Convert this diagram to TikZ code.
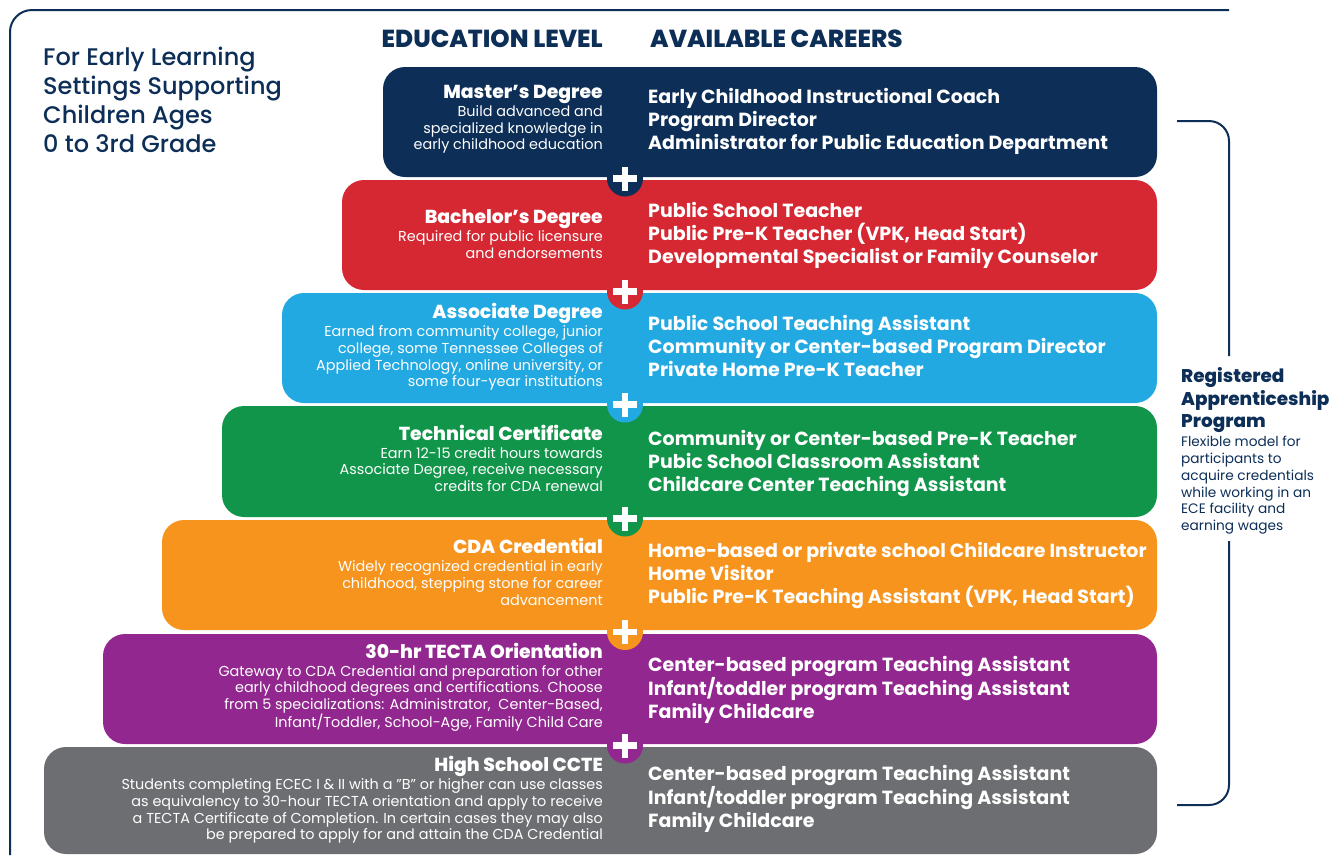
\documentclass[tikz,border=0pt]{standalone}
\usepackage{fontspec}
\setmainfont{Poppins}
\newfontfamily\popmedium{Poppins Medium}
\newfontfamily\popbold{Poppins Bold}
\newfontfamily\popxbold{Poppins ExtraBold}
\usetikzlibrary{positioning}

\definecolor{navy}{HTML}{0C2E57}
\definecolor{bsred}{HTML}{D62832}
\definecolor{asblue}{HTML}{22A9E1}
\definecolor{tcgreen}{HTML}{11954A}
\definecolor{cdaorange}{HTML}{F7941E}
\definecolor{tpurple}{HTML}{92278F}
\definecolor{hsgray}{HTML}{6D6E71}

\tikzset{
  frame/.style={draw=navy, line width=2pt},
  bar/.style={rounded corners=22pt},
  colhead/.style={text=navy, font=\popxbold\fontsize{24.6}{28}\selectfont, inner sep=0pt},
  lvlhead/.style={text=white, font=\popxbold\fontsize{18.8}{20}\selectfont, inner sep=0pt, anchor=base east},
  lvldesc/.style={text=white, font=\fontsize{14.4}{16.7}\selectfont, align=right, inner sep=0pt},
  careers/.style={text=white, font=\popbold\fontsize{19}{23}\selectfont, align=left, inner sep=0pt, anchor=west},
  plus/.style={circle, fill=#1, minimum size=36pt, inner sep=0pt,
    path picture={
      \draw[white, line width=6.7pt] (path picture bounding box.center) +(-12pt,0) -- +(12pt,0);
      \draw[white, line width=6.7pt] (path picture bounding box.center) +(0,-12pt) -- +(0,12pt);
    }},
}

\begin{document}
\begin{tikzpicture}[x=1pt,y=-1pt]
  \useasboundingbox (0,0) rectangle (1343,855);

  % outer frame
  \draw[frame, rounded corners=22pt] (1229,10) -- (10,10) -- (10,855);

  % education bars
  \fill[navy, bar] (383,67) rectangle (1157,177);
  \fill[bsred, bar] (342,180) rectangle (1157,290);
  \fill[asblue, bar] (282,293) rectangle (1157,403);
  \fill[tcgreen, bar] (222,406) rectangle (1157,517);
  \fill[cdaorange, bar] (162,520) rectangle (1157,630);
  \fill[tpurple, bar] (103,634) rectangle (1157,744);
  \fill[hsgray, bar] (44,747) rectangle (1157,854);

  % plus signs between bars
  \node[plus=navy] (p1) at (625,178.5) {};
  \node[plus=bsred] (p2) at (625,291.5) {};
  \node[plus=asblue] (p3) at (625,404.5) {};
  \node[plus=tcgreen] (p4) at (625,518.5) {};
  \node[plus=cdaorange] (p5) at (625,632) {};
  \node[plus=tpurple] (p6) at (625,745.5) {};

  % title and column heads
  \node[text=navy, font=\popmedium\fontsize{24}{29}\selectfont, align=left, inner sep=0pt, anchor=north west] (title) at (43,47)
    {For Early Learning\\Settings Supporting\\Children Ages\\0 to 3rd Grade};
  \node[colhead, anchor=base east] (edu) at (603,47) {EDUCATION LEVEL};
  \node[colhead, anchor=base west] (car) at (650,47) {AVAILABLE CAREERS};

  % master's
  \node[lvlhead] (ms-h) at (603,98.3) {Master’s Degree};
  \node[lvldesc, below left=7pt and 0pt of ms-h.base east] (ms-d)
    {Build advanced and\\specialized knowledge in\\early childhood education};
  \node[careers] (ms-c) at (648,121)
    {Early Childhood Instructional Coach\\Program Director\\Administrator for Public Education Department};

  % bachelor's
  \node[lvlhead] (bs-h) at (603,223.5) {Bachelor’s Degree};
  \node[lvldesc, below left=7pt and 0pt of bs-h.base east] (bs-d)
    {Required for public licensure\\and endorsements};
  \node[careers] (bs-c) at (648,235)
    {Public School Teacher\\Public Pre-K Teacher (VPK, Head Start)\\Developmental Specialist or Family Counselor};

  % associate
  \node[lvlhead] (as-h) at (603,318.5) {Associate Degree};
  \node[lvldesc, below left=7pt and 0pt of as-h.base east] (as-d)
    {Earned from community college, junior\\college, some Tennessee Colleges of\\Applied Technology, online university, or\\some four-year institutions};
  \node[careers] (as-c) at (648,346)
    {Public School Teaching Assistant\\Community or Center-based Program Director\\Private Home Pre-K Teacher};

  % technical
  \node[lvlhead] (tc-h) at (603,440) {Technical Certificate};
  \node[lvldesc, below left=7pt and 0pt of tc-h.base east] (tc-d)
    {Earn 12-15 credit hours towards\\Associate Degree, receive necessary\\credits for CDA renewal};
  \node[careers] (tc-c) at (648,463)
    {Community or Center-based Pre-K Teacher\\Pubic School Classroom Assistant\\Childcare Center Teaching Assistant};

  % cda
  \node[lvlhead] (cda-h) at (603,553.5) {CDA Credential};
  \node[lvldesc, below left=7pt and 0pt of cda-h.base east] (cda-d)
    {Widely recognized credential in early\\childhood, stepping stone for career\\advancement};
  \node[careers] (cda-c) at (648,575)
    {Home-based or private school Childcare Instructor\\Home Visitor\\Public Pre-K Teaching Assistant (VPK, Head Start)};

  % tecta
  \node[lvlhead] (tt-h) at (603,658) {30-hr TECTA Orientation};
  \node[lvldesc, below left=7pt and 0pt of tt-h.base east] (tt-d)
    {Gateway to CDA Credential and preparation for other\\early childhood degrees and certifications. Choose\\from 5 specializations: Administrator,~ Center-Based,\\Infant/Toddler, School-Age, Family Child Care};
  \node[careers] (tt-c) at (648,690)
    {Center-based program Teaching Assistant\\Infant/toddler program Teaching Assistant\\Family Childcare};

  % high school
  \node[lvlhead] (hs-h) at (603,771.7) {High School CCTE};
  \node[lvldesc, below left=7pt and 0pt of hs-h.base east] (hs-d)
    {Students completing ECEC I \& II with a "B" or higher can use classes\\as equivalency to 30-hour TECTA orientation and apply to receive\\a TECTA Certificate of Completion. In certain cases they may also\\be prepared to apply for and attain the CDA Credential};
  \node[careers] (hs-c) at (648,799)
    {Center-based program Teaching Assistant\\Infant/toddler program Teaching Assistant\\Family Childcare};

  % apprenticeship bracket
  \node[text=navy, font=\popxbold\fontsize{18.4}{22.5}\selectfont, align=left, inner sep=0pt, anchor=north west] (rap) at (1181,367.5)
    {Registered\\Apprenticeship\\Program};
  \node[text=navy, font=\fontsize{13.7}{16.8}\selectfont, align=left, inner sep=0pt, below right=3pt and 0pt of rap.south west] (rap-d)
    {Flexible model for\\participants to\\acquire credentials\\while working in an\\ECE facility and\\earning wages};
  \coordinate (br-top) at (1177,121);
  \coordinate (br-bot) at (1177,805);
  \draw[frame, rounded corners=20pt] (br-top) -- (1229,121) -- (1229,356);
  \draw[frame, rounded corners=20pt] (1229,541) -- (1229,805) -- (br-bot);
\end{tikzpicture}
\end{document}
